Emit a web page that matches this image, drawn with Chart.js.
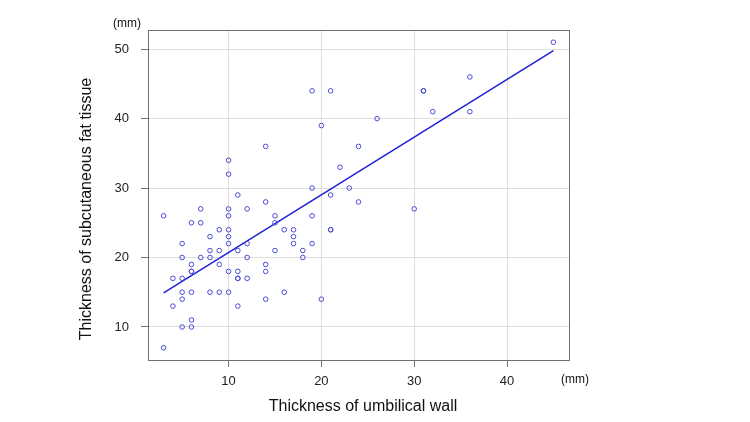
<!DOCTYPE html>
<html>
<head>
<meta charset="utf-8">
<script src="https://cdn.jsdelivr.net/npm/chart.js@4.4.1/dist/chart.umd.min.js"></script>
<style>
  html, body { margin: 0; padding: 0; background: #fff; }
  #wrap { width: 750px; height: 422px; }
</style>
</head>
<body>
<div id="wrap"><canvas id="chart" width="750" height="422"></canvas></div>
<script>
// valeurs (mm)
const umbilicalWall = [
  3, 3,
  4, 4,
  5, 5, 5, 5, 5, 5,
  6, 6, 6, 6, 6, 6, 6,
  7, 7, 7,
  8, 8, 8, 8,
  9, 9, 9, 9,
  10, 10, 10, 10, 10, 10, 10, 10, 10,
  11, 11, 11, 11, 11, 11,
  12, 12, 12, 12,
  14, 14, 14, 14, 14,
  15, 15, 15,
  16, 16,
  17, 17, 17,
  18, 18,
  19, 19, 19, 19,
  20, 20,
  21, 21, 21, 21,
  22, 23, 24, 24, 26, 30, 31, 31, 32, 36, 36, 45
];
const fatTissue = [
  26, 7,
  17, 13,
  22, 20, 17, 15, 14, 10,
  25, 19, 18, 18, 15, 11, 10,
  27, 25, 20,
  23, 21, 20, 15,
  24, 21, 19, 15,
  34, 32, 27, 26, 24, 23, 22, 18, 15,
  29, 21, 18, 17, 17, 13,
  27, 22, 20, 17,
  36, 28, 19, 18, 14,
  26, 25, 21,
  24, 15,
  24, 23, 22,
  21, 20,
  44, 30, 26, 22,
  39, 14,
  44, 29, 24, 24,
  33, 30, 36, 28, 40, 27, 44, 44, 41, 46, 41, 51
];

// droite de régression (extrémités)
const fitX = [3, 45];
const fitY = [14.9, 49.8];

const xTicks = [10, 20, 30, 40];
const yTicks = [10, 20, 30, 40, 50];

const scatterPoints = umbilicalWall.map((x, i) => ({ x, y: fatTissue[i] }));
const fitLine = fitX.map((x, i) => ({ x, y: fitY[i] }));

const FONT = "'Liberation Sans', Arial, sans-serif";

// cadre + titres des axes + unités
const decorations = {
  id: "decorations",
  afterDraw(chart) {
    const { ctx, chartArea: a } = chart;
    ctx.save();
    ctx.strokeStyle = "#707070";
    ctx.lineWidth = 1;
    ctx.strokeRect(a.left + 0.5, a.top + 0.5, a.right - a.left, a.bottom - a.top);

    ctx.fillStyle = "#111";
    ctx.font = "16px " + FONT;
    ctx.textAlign = "center";
    ctx.textBaseline = "middle";
    ctx.fillText("Thickness of umbilical wall", 363, 407);

    ctx.save();
    ctx.translate(87, 209);
    ctx.rotate(-Math.PI / 2);
    ctx.fillText("Thickness of subcutaneous fat tissue", 0, 0);
    ctx.restore();

    ctx.font = "12px " + FONT;
    ctx.fillText("(mm)", 127, 24);
    ctx.textAlign = "left";
    ctx.fillText("(mm)", 561, 380);
    ctx.restore();
  }
};

new Chart(document.getElementById("chart"), {
  type: "scatter",
  data: {
    datasets: [
      {
        label: "mesures",
        data: scatterPoints,
        pointStyle: "circle",
        pointRadius: 2.3,
        pointBorderWidth: 1,
        pointBorderColor: "#4a4ad6",
        pointBackgroundColor: "rgba(0,0,0,0)"
      },
      {
        label: "régression",
        type: "line",
        data: fitLine,
        borderColor: "#1f1fd6",
        borderWidth: 1.5,
        pointRadius: 0,
        fill: false
      }
    ]
  },
  options: {
    responsive: false,
    animation: false,
    layout: { padding: { left: 0, top: 30, right: 181, bottom: 0 } },
    plugins: {
      legend: { display: false },
      tooltip: { enabled: false }
    },
    scales: {
      x: {
        type: "linear",
        min: 1.32,
        max: 46.68,
        afterBuildTicks: s => { s.ticks = xTicks.map(v => ({ value: v })); },
        afterFit: s => { s.height = 62; },
        grid: { color: "#dedede", tickColor: "#707070", tickLength: 7 },
        border: { display: true, color: "#707070" },
        ticks: { color: "#222", padding: 7, maxRotation: 0, font: { size: 13, family: FONT } }
      },
      y: {
        type: "linear",
        min: 5.24,
        max: 52.76,
        afterBuildTicks: s => { s.ticks = yTicks.map(v => ({ value: v })); },
        afterFit: s => { s.width = 148; },
        grid: { color: "#dedede", tickColor: "#707070", tickLength: 7 },
        border: { display: true, color: "#707070" },
        ticks: { color: "#222", padding: 12, font: { size: 13, family: FONT } }
      }
    }
  },
  plugins: [decorations]
});
</script>
</body>
</html>
